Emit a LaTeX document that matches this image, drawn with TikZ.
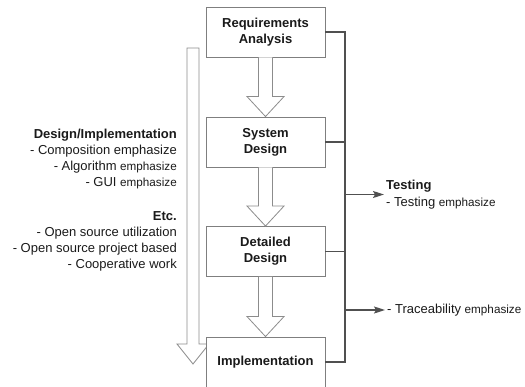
\documentclass[tikz,border=0pt]{standalone}
\usepackage{fontspec}
\setmainfont{Liberation Sans}
\usetikzlibrary{calc,arrows.meta}
\definecolor{boxline}{HTML}{7F7F7F}
\definecolor{flowline}{HTML}{8C8C8C}
\definecolor{wire}{HTML}{505050}
\definecolor{ink}{HTML}{1A1A1A}
% smaller type for the trailing "emphasize"
\newcommand\smallemph{\fontsize{11.7}{14}\selectfont emphasize}
% hollow block arrow from the bottom of one stage to the top of the next
\newcommand\flowarrow[2]{%
  \draw[flow] ($(#1.south)+(-7,0)$) -- ($(#2.north)+(-7,-20)$)
    -- ($(#2.north)+(-18.5,-20)$) -- (#2.north)
    -- ($(#2.north)+(18.5,-20)$) -- ($(#2.north)+(7,-20)$)
    -- ($(#1.south)+(7,0)$);}
\begin{document}
\begin{tikzpicture}[x=1pt,y=-1pt,
  stage/.style={draw=boxline,line width=0.9pt,fill=white,minimum width=119pt,
    minimum height=50pt,inner sep=0pt,align=center,
    font=\fontsize{13}{16}\selectfont\bfseries,text=ink},
  flow/.style={draw=flowline,line width=0.8pt,fill=white,line join=miter},
  bus/.style={draw=wire,line width=1.4pt},
  feed/.style={bus,-{Stealth[length=11pt,width=7pt,inset=2pt]}},
  lbl/.style={inner sep=0pt,font=\fontsize{13}{16}\selectfont,text=ink},
  hd/.style={lbl,font=\fontsize{13}{16}\selectfont\bfseries}]
\useasboundingbox (0,0) rectangle (525,386);
\clip (0,0) rectangle (525,386);

% long hollow arrow along the whole process
\draw[flow] (187,48) -- (199,48) -- (199,344) -- (209,344) -- (193,364)
  -- (177,344) -- (187,344) -- cycle;

% process stages
\node[stage] (req) at (265.5,32) {Requirements\\Analysis};
\node[stage] (sys) at (265.5,142) {System\\Design};
\node[stage] (det) at (265.5,251.5) {Detailed\\Design};
\node[stage] (imp) at (265.5,362) {Implementation};

\flowarrow{req}{sys}
\flowarrow{sys}{det}
\flowarrow{det}{imp}

% collecting bus on the right
\coordinate (busx) at (345,0);
\draw[bus] (req.east) -- (req.east -| busx) |- (imp.east);
\draw[bus] (sys.east) -- (sys.east -| busx);
\draw[bus] (det.east) -- (det.east -| busx);

% testing output
\node[hd,anchor=base west] (testT) at (386,189) {Testing};
\node[lbl,anchor=base west] (testE) at (386,206) {- Testing \smallemph};
\coordinate (tin) at (384,194.5);
\draw[feed] (busx |- tin) -- (tin);

% traceability output
\node[lbl,anchor=base west] (trace) at (387,313) {- Traceability \smallemph};
\coordinate (trin) at (385,310);
\draw[feed] (busx |- trin) -- (trin);

% notes on the left
\node[hd,anchor=base east] (l1) at (177,138) {Design/Implementation};
\node[lbl,anchor=base east] (l2) at (177,154) {- Composition emphasize};
\node[lbl,anchor=base east] (l3) at (177,170) {- Algorithm \smallemph};
\node[lbl,anchor=base east] (l4) at (177,186) {- GUI \smallemph};
\node[hd,anchor=base east] (l5) at (177,220) {Etc.};
\node[lbl,anchor=base east] (l6) at (177,236) {- Open source utilization};
\node[lbl,anchor=base east] (l7) at (177,252) {- Open source project based};
\node[lbl,anchor=base east] (l8) at (177,268) {- Cooperative work};
\end{tikzpicture}
\end{document}
